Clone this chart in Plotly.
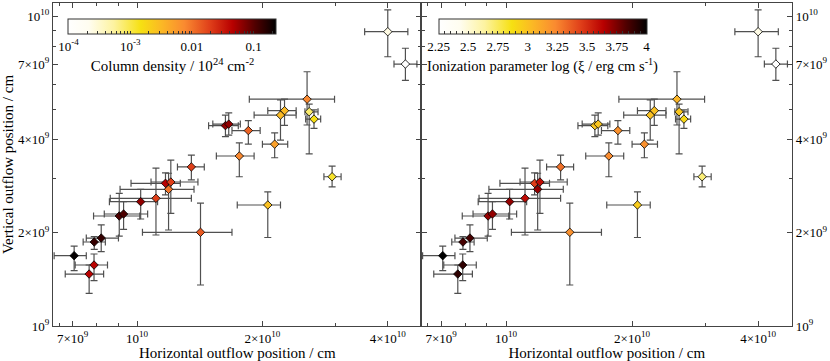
import numpy as np
import plotly.graph_objects as go

# positions in units of 1e9 cm
x_pos = [40.0, 44.1, 25.6, 22.6, 22.1, 25.9, 26.6, 16.3, 16.6, 18.5, 21.4, 17.6, 13.5, 29.4,
         20.6, 14.2, 7.06, 7.89, 8.20, 7.88, 7.67, 9.06, 9.28, 10.2, 11.1, 11.7, 12.05, 11.9]
x_low = [35.2, 41.4, 18.6, 20.6, 19.1, 25.3, 25.4, 14.85, 15.2, 16.9, 20.0, 15.5, 12.5, 28.1,
         17.4, 10.3, 6.32, 7.42, 7.55, 7.10, 6.72, 7.86, 8.34, 8.58, 8.62, 9.67, 10.8, 9.1]
x_high = [44.7, 47.0, 29.8, 24.1, 24.1, 27.2, 27.6, 17.5, 17.7, 19.75, 23.0, 19.1, 14.5, 30.9,
          22.1, 16.9, 7.55, 8.39, 9.02, 8.49, 8.31, 10.15, 10.6, 11.2, 13.5, 12.7, 14.0, 13.7]
y_pos = [8.90, 7.00, 5.39, 4.95, 4.79, 4.91, 4.65, 4.43, 4.48, 4.27, 3.86, 3.535, 3.26, 3.03,
         2.457, 2.006, 1.686, 1.866, 1.922, 1.573, 1.471, 2.264, 2.298, 2.518, 2.582, 2.886, 2.914, 2.76]
y_low = [7.39, 6.20, 4.45, 4.44, 3.98, 3.59, 4.34, 4.08, 4.13, 3.86, 3.49, 3.03, 2.96, 2.81,
         1.93, 1.356, 1.508, 1.768, 1.737, 1.400, 1.275, 1.951, 2.051, 2.214, 1.966, 2.65, 2.31, 2.04]
y_high = [10.46, 7.87, 6.61, 5.39, 5.36, 5.20, 4.98, 4.79, 4.87, 4.60, 4.20, 3.90, 3.56, 3.28,
          2.71, 2.49, 1.81, 1.941, 2.118, 1.707, 1.573, 2.68, 2.518, 2.76, 3.23, 3.12, 3.43, 3.11]
# log10 column density (1e24 cm^-2)
log_nh = [-3.6, -4.0, -2.1, -2.5, -2.5, -3.1, -2.8, -1.2, -1.2, -1.9, -2.3, -2.1, -1.7, -2.9,
          -2.55, -1.85, -0.65, -0.85, -0.85, -1.35, -1.35, -0.95, -0.95, -1.2, -1.7, -1.35, -1.7, -2.0]
# log ionization parameter
log_xi = [2.45, 2.25, 3.05, 3.0, 3.0, 2.97, 2.9, 2.98, 2.98, 3.2, 3.2, 3.22, 3.3, 2.7,
          2.95, 3.2, 4.0, 3.85, 3.85, 3.9, 3.9, 3.7, 3.7, 3.7, 3.6, 3.45, 3.6, 3.7]

x = np.array(x_pos) * 1e9
y = np.array(y_pos) * 1e9
ex_m = x - np.array(x_low) * 1e9
ex_p = np.array(x_high) * 1e9 - x
ey_m = y - np.array(y_low) * 1e9
ey_p = np.array(y_high) * 1e9 - y

FONT = "Liberation Serif"
scale = [[0, "#ffffff"], [0.1, "#fffdf0"], [0.22, "#fdf3a0"], [0.35, "#f6e012"],
         [0.45, "#fbb825"], [0.56, "#fa8a30"], [0.68, "#e0401a"], [0.79, "#b80000"],
         [0.9, "#500000"], [1, "#000000"]]

err_style = dict(type="data", color="#505050", thickness=1.2, width=3.5)


def add_points(fig, xa, ya, col, cax):
    fig.add_trace(go.Scatter(
        x=x, y=y, mode="markers", xaxis=xa, yaxis=ya, showlegend=False,
        marker=dict(symbol="diamond", size=6.5, color=col, coloraxis=cax,
                    line=dict(color="black", width=0.8)),
        error_x=dict(array=ex_p, arrayminus=ex_m, **err_style),
        error_y=dict(array=ey_p, arrayminus=ey_m, **err_style)))


fig = go.Figure()
add_points(fig, "x", "y", log_nh, "coloraxis")
add_points(fig, "x2", "y2", log_xi, "coloraxis2")

# colorbar ticks
nh_ticks, nh_text = [], []
for d in [1e-4, 1e-3, 1e-2, 1e-1]:
    for m in range(1, 10):
        v = d * m
        if v > 0.235:
            break
        nh_ticks.append(np.log10(v))
        lab = {1e-4: "10<sup>-4</sup>", 1e-3: "10<sup>-3</sup>", 1e-2: "0.01", 1e-1: "0.1"}[d]
        nh_text.append(lab if m == 1 else "")
xi_ticks = list(np.round(np.arange(2.25, 4.001, 0.05), 2))
xi_text = [("%g" % v) if abs(v * 4 - round(v * 4)) < 1e-6 else "" for v in xi_ticks]

cb_common = dict(orientation="h", thickness=15, len=0.282, lenmode="fraction",
                 xanchor="center", yanchor="top", y=0.95, xpad=0, ypad=0,
                 outlinecolor="#333", outlinewidth=1, ticks="inside", ticklen=3,
                 tickcolor="#333", tickmode="array", tickangle=0,
                 tickfont=dict(family=FONT, size=13, color="black"))

fig.update_layout(
    width=830, height=361,
    margin=dict(l=53, r=38, t=3, b=35, autoexpand=False),
    paper_bgcolor="white", plot_bgcolor="white",
    font=dict(family=FONT, size=13, color="black"),
    coloraxis=dict(colorscale=scale, cmin=-4, cmax=np.log10(0.235),
                   colorbar=dict(x=0.1617, tickvals=nh_ticks, ticktext=nh_text,
                                 title=dict(text="Column density / 10<sup>24</sup> cm<sup>-2</sup>",
                                            side="bottom", font=dict(family=FONT, size=15)),
                                 **cb_common)),
    coloraxis2=dict(colorscale=scale, cmin=2.25, cmax=4,
                    colorbar=dict(x=0.6624, tickvals=xi_ticks, ticktext=xi_text,
                                  title=dict(text="Ionization parameter log (ξ / erg cm s<sup>-1</sup>)",
                                             side="bottom", font=dict(family=FONT, size=14.5)),
                                  **cb_common)),
)

xt = [7e9, 1e10, 2e10, 4e10]
xt_text = ["7×10<sup>9</sup>", "10<sup>10</sup>", "2×10<sup>10</sup>", "4×10<sup>10</sup>"]
x_minor = [6.5e9, 8e9, 9e9, 3e10]
yt = [1e9, 2e9, 4e9, 7e9, 1e10]
yt_text = ["10<sup>9</sup>", "2×10<sup>9</sup>", "4×10<sup>9</sup>", "7×10<sup>9</sup>", "10<sup>10</sup>"]
y_minor = [3e9, 5e9, 6e9, 8e9, 9e9]

ax_common = dict(type="log", showline=True, mirror="ticks", linecolor="#444", linewidth=1.2,
                 ticks="inside", ticklen=5, tickcolor="#444", tickwidth=1, showgrid=False,
                 zeroline=False, automargin=False, tickfont=dict(family=FONT, size=13))

xaxis_kw = dict(ax_common, range=[9.798, 10.683], tickvals=xt, ticktext=xt_text,
                title=dict(text="Horizontal outflow position / cm", font=dict(size=15), standoff=2),
                minor=dict(tickvals=x_minor, ticks="inside", ticklen=3, tickcolor="#444"))
yaxis_kw = dict(ax_common, range=[9, 10.042], tickvals=yt, ticktext=yt_text,
                minor=dict(tickvals=y_minor, ticks="inside", ticklen=3, tickcolor="#444"))

fig.update_layout(
    xaxis=dict(xaxis_kw, domain=[0, 0.4986], anchor="y"),
    xaxis2=dict(xaxis_kw, domain=[0.4986, 1], anchor="y2"),
    yaxis=dict(yaxis_kw, domain=[0, 1], anchor="x",
               title=dict(text="Vertical outflow position / cm", font=dict(size=15), standoff=4)),
    yaxis2=dict(yaxis_kw, domain=[0, 1], anchor="x2", side="right", matches="y"),
)

# drop the default page margin so the figure sits at the window's corner
fig.write_html("out.html", config={"displayModeBar": False},
               post_script="document.body.style.margin='0';")
